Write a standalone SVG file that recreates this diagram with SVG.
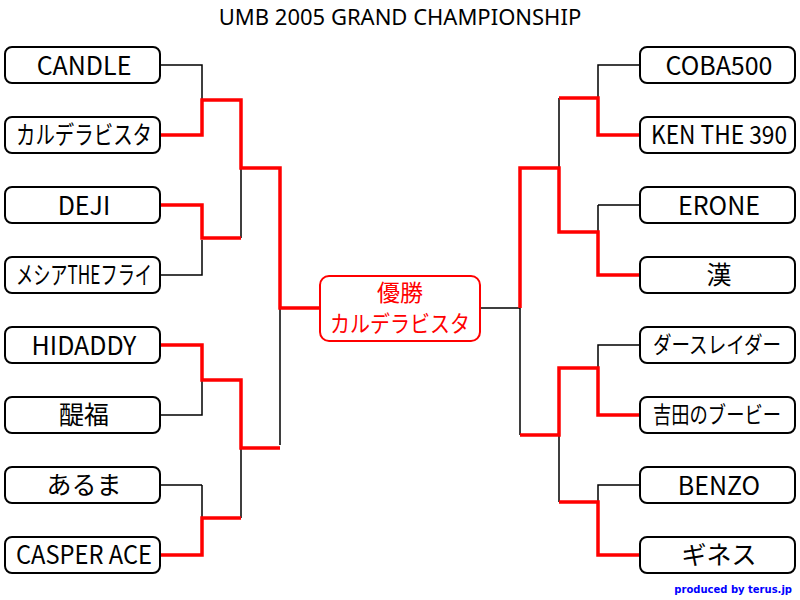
<svg xmlns="http://www.w3.org/2000/svg" width="800" height="600" viewBox="0 0 800 600">
<style>
.b{fill:#fff;stroke:#000;stroke-width:2}
.t{font-family:"Noto Sans CJK JP","Noto Sans",sans-serif;font-size:25px;text-anchor:middle;fill:#000}
.k{fill:none;stroke:#000;stroke-width:1.5}
.r{fill:none;stroke:#f00;stroke-width:3.5}
</style>
<rect width="800" height="600" fill="#fff"/>
<text x="400" y="25" style="font-family:'Noto Sans',sans-serif;font-size:22px;text-anchor:middle">UMB 2005 GRAND CHAMPIONSHIP</text>
<g id="connectors">
<path class="k" d="M160 65H202V100M202 380V415H160M202 240V275H160M202 485H160M202 485V518M241 168V238M241 448V518M280 308V445"/>
<path class="r" d="M160 135H202V100H241V168H280V308H320M160 205H202V238H241M160 345H202V380H241V448H280M160 555H202V518H241"/>
<path class="k" d="M640 65H598V98M598 205H640M598 205V232M559 98V168M520 308H480M520 308V435M640 345H598V368M640 485H598V502M559 435V502"/>
<path class="r" d="M640 135H598V98H559M640 275H598V232H559V168H520V308M559 168V232M640 415H598V368H559V435H520M640 555H598V502H559"/>
</g>
<g id="n1"><rect class="b" x="5" y="47" width="155" height="36" rx="7"/><text class="t" x="84" y="75">CANDLE</text></g>
<g id="n2"><rect class="b" x="5" y="117" width="155" height="36" rx="7"/><text class="t" x="84" y="144" textLength="136" lengthAdjust="spacingAndGlyphs">カルデラビスタ</text></g>
<g id="n3"><rect class="b" x="5" y="187" width="155" height="36" rx="7"/><text class="t" x="84" y="215">DEJI</text></g>
<g id="n4"><rect class="b" x="5" y="257" width="155" height="36" rx="7"/><text class="t" x="84" y="284" textLength="136" lengthAdjust="spacingAndGlyphs">メシアTHEフライ</text></g>
<g id="n5"><rect class="b" x="5" y="327" width="155" height="36" rx="7"/><text class="t" x="84" y="355">HIDADDY</text></g>
<g id="n6"><rect class="b" x="5" y="397" width="155" height="36" rx="7"/><text class="t" x="84" y="424">醍福</text></g>
<g id="n7"><rect class="b" x="5" y="467" width="155" height="36" rx="7"/><text class="t" x="84" y="494">あるま</text></g>
<g id="n8"><rect class="b" x="5" y="537" width="155" height="36" rx="7"/><text class="t" x="84" y="564" textLength="136" lengthAdjust="spacingAndGlyphs">CASPER ACE</text></g>
<g id="n9"><rect class="b" x="640" y="47" width="155" height="36" rx="7"/><text class="t" x="719" y="75">COBA500</text></g>
<g id="n10"><rect class="b" x="640" y="117" width="155" height="36" rx="7"/><text class="t" x="719" y="144" textLength="136" lengthAdjust="spacingAndGlyphs">KEN THE 390</text></g>
<g id="n11"><rect class="b" x="640" y="187" width="155" height="36" rx="7"/><text class="t" x="719" y="215">ERONE</text></g>
<g id="n12"><rect class="b" x="640" y="257" width="155" height="36" rx="7"/><text class="t" x="719" y="284">漢</text></g>
<g id="n13"><rect class="b" x="640" y="327" width="155" height="36" rx="7"/><text class="t" x="717" y="353" style="font-size:23px" textLength="128" lengthAdjust="spacingAndGlyphs">ダースレイダー</text></g>
<g id="n14"><rect class="b" x="640" y="397" width="155" height="36" rx="7"/><text class="t" x="717" y="423" style="font-size:23px" textLength="128" lengthAdjust="spacingAndGlyphs">吉田のブービー</text></g>
<g id="n15"><rect class="b" x="640" y="467" width="155" height="36" rx="7"/><text class="t" x="719" y="495">BENZO</text></g>
<g id="n16"><rect class="b" x="640" y="537" width="155" height="36" rx="7"/><text class="t" x="719" y="564">ギネス</text></g>
<g id="champion"><rect x="320" y="276" width="160" height="65" rx="9" fill="#fff" stroke="#f00" stroke-width="2"/>
<text class="t" x="400" y="301" style="fill:#f00;font-size:23px">優勝</text>
<text class="t" x="400" y="332" style="fill:#f00;font-size:23px" textLength="140" lengthAdjust="spacingAndGlyphs">カルデラビスタ</text></g>
<text x="792" y="593" style="font-family:'DejaVu Sans',sans-serif;font-size:10px;font-weight:bold;fill:#00f;text-anchor:end">produced by terus.jp</text>
</svg>
